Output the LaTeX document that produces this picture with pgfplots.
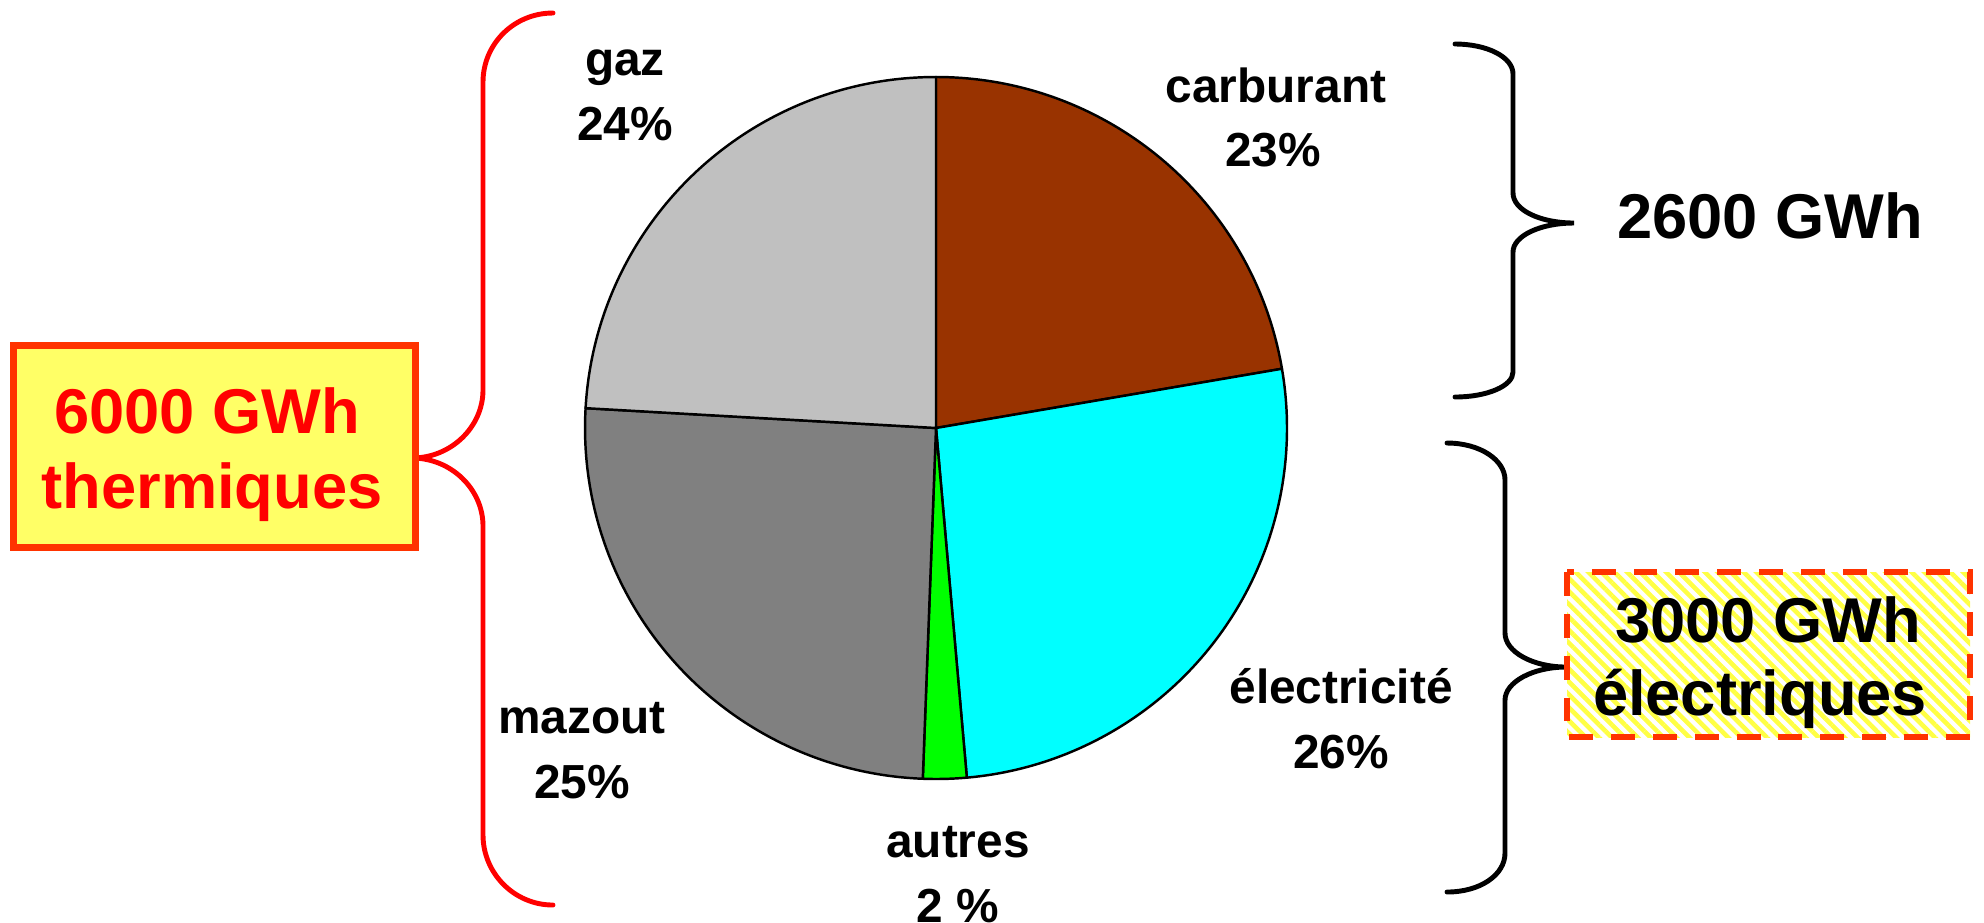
\documentclass[border=0pt]{standalone}
\usepackage{pgfplots}
\pgfplotsset{compat=1.18}
\usepackage{fontspec}
\setmainfont{Liberation Sans}
\usetikzlibrary{patterns.meta}
\definecolor{carb}{HTML}{993300}
\definecolor{elec}{HTML}{00FFFF}
\definecolor{autr}{HTML}{00FF00}
\definecolor{mazo}{HTML}{808080}
\definecolor{gazc}{HTML}{C0C0C0}
\definecolor{boxfill}{HTML}{FFFF66}
\definecolor{boxred}{HTML}{FF3300}
\definecolor{stripe}{HTML}{FFFF44}
\begin{document}
\begin{tikzpicture}
\begin{axis}[width=19.84cm, height=9.22cm, scale only axis,
  xmin=0, xmax=1984, ymin=0, ymax=922, y dir=reverse,
  hide axis, clip=false]
\coordinate (SW) at (axis cs:0,922);
\coordinate (NE) at (axis cs:1984,0);
\coordinate (C) at (axis cs:936,428);
% slice labels
\tikzset{lab/.style={anchor=base, inner sep=0pt, font=\fontsize{13.6}{16}\selectfont\bfseries}}
\node[lab] at (axis cs:625,75) {gaz};
\node[lab] at (axis cs:625,140) {24\%};
\node[lab] at (axis cs:1276,102) {carburant};
\node[lab] at (axis cs:1273,166) {23\%};
\node[lab] at (axis cs:1341,703) {électricité};
\node[lab] at (axis cs:1341,768) {26\%};
\node[lab] at (axis cs:958,857) {autres};
\node[lab] at (axis cs:958,922) {2 \%};
\node[lab] at (axis cs:582,733) {mazout};
\node[lab] at (axis cs:582,798) {25\%};
% red brace
\draw[red, line width=1.4pt, line cap=round]
  (axis cs:553,13) .. controls (axis cs:514,13) and (axis cs:483,44) .. (axis cs:483,82)
  -- (axis cs:483,390) .. controls (axis cs:483,427) and (axis cs:451,458) .. (axis cs:412,458)
  .. controls (axis cs:451,458) and (axis cs:483,489) .. (axis cs:483,526)
  -- (axis cs:483,835) .. controls (axis cs:483,873) and (axis cs:514,905) .. (axis cs:553,905);
% black brace 1
\draw[black, line width=1.4pt, line cap=round]
  (axis cs:1455,44) .. controls (axis cs:1487,44) and (axis cs:1513,57) .. (axis cs:1513,74)
  -- (axis cs:1513,193) .. controls (axis cs:1513,210) and (axis cs:1540,223) .. (axis cs:1574,223)
  .. controls (axis cs:1540,223) and (axis cs:1513,236) .. (axis cs:1513,252)
  -- (axis cs:1513,372) .. controls (axis cs:1513,386) and (axis cs:1487,397) .. (axis cs:1455,397);
% black brace 2
\draw[black, line width=1.4pt, line cap=round]
  (axis cs:1447,443) .. controls (axis cs:1480,443) and (axis cs:1505,460) .. (axis cs:1505,480)
  -- (axis cs:1505,633) .. controls (axis cs:1505,652) and (axis cs:1533,667) .. (axis cs:1566,667)
  .. controls (axis cs:1533,667) and (axis cs:1505,682) .. (axis cs:1505,700)
  -- (axis cs:1505,853) .. controls (axis cs:1505,875) and (axis cs:1480,892) .. (axis cs:1447,892);
% boxes
\draw[fill=boxfill, draw=boxred, line width=2pt] (axis cs:13.5,345.5) rectangle (axis cs:415.5,547.5);
\node[anchor=base, inner sep=0pt, text=red, font=\fontsize{18}{20}\selectfont\bfseries] at (axis cs:207,433) {6000 GWh};
\node[anchor=base, inner sep=0pt, text=red, font=\fontsize{18}{20}\selectfont\bfseries] at (axis cs:212,508) {thermiques};
\draw[pattern={Lines[angle=-45,distance=2.6pt,line width=1.3pt]}, pattern color=stripe,
  draw=boxred, line width=1.7pt, dash pattern=on 6.8pt off 5.1pt] (axis cs:1567,572) rectangle (axis cs:1970,737);
\node[anchor=base, inner sep=0pt, font=\fontsize{18}{20}\selectfont\bfseries] at (axis cs:1768,642) {3000 GWh};
\node[anchor=base, inner sep=0pt, font=\fontsize{18}{20}\selectfont\bfseries] at (axis cs:1760,715) {électriques};
\node[anchor=base, inner sep=0pt, font=\fontsize{18}{20}\selectfont\bfseries] at (axis cs:1770,238) {2600 GWh};
\end{axis}
% pie slices, clockwise from 12 o'clock (shares in %, as drawn)
\gdef\angA{90}
\foreach \v/\c in {22.3/carb,26.3/elec,2.0/autr,25.3/mazo,24.1/gazc}{
  \pgfmathsetmacro\angB{\angA-3.6*\v}
  \filldraw[fill=\c, draw=black, line width=0.7pt, line join=round]
    (C) -- ++(\angA:3.51cm) arc[start angle=\angA, end angle=\angB, radius=3.51cm] -- cycle;
  \xdef\angA{\angB}
}
\pgfresetboundingbox
\useasboundingbox (SW) rectangle (NE);
\end{tikzpicture}
\end{document}
